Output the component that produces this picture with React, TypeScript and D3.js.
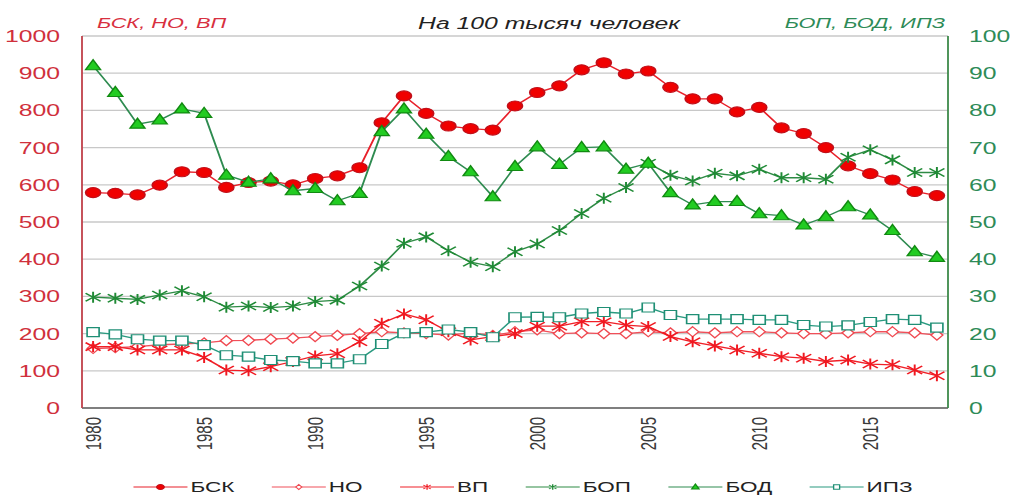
import { useEffect, useRef } from "react"
import * as d3 from "d3"

const YEARS = [
  1980, 1981, 1982, 1983, 1984, 1985, 1986, 1987, 1988, 1989, 1990, 1991, 1992,
  1993, 1994, 1995, 1996, 1997, 1998, 1999, 2000, 2001, 2002, 2003, 2004, 2005,
  2006, 2007, 2008, 2009, 2010, 2011, 2012, 2013, 2014, 2015, 2016, 2017, 2018,
]
const YEAR_LABELS = [1980, 1985, 1990, 1995, 2000, 2005, 2010, 2015]

// left axis (per 100k): БСК, НО, ВП
const BSK = [
  579, 577, 573, 599, 635, 633, 593, 606, 610, 600, 617, 624, 646,
  767, 839, 792, 758, 751, 747, 812, 848, 866, 909, 928, 898, 906,
  862, 831, 831, 796, 808, 753, 738, 700, 651, 630, 613, 582, 571,
]
const NO = [
  160, 162, 165, 170, 172, 175, 181, 182, 185, 188, 192, 195, 200,
  205, 202, 200, 196, 202, 195, 205, 210, 200, 202, 200, 200, 205,
  202, 205, 202, 205, 205, 202, 200, 200, 202, 205, 205, 202, 196,
]
const VP = [
  165, 165, 156, 156, 156, 136, 102, 100, 111, 125, 140, 146, 178,
  228, 253, 237, 205, 183, 192, 200, 220, 220, 232, 232, 223, 219,
  192, 178, 167, 156, 147, 138, 134, 125, 129, 118, 116, 102, 87,
]
// right axis: БОП, БОД, ИПЗ
const BOP = [
  29.8, 29.5, 29.2, 30.4, 31.5, 29.9, 27.1, 27.4, 27.0, 27.4, 28.6, 29.0, 32.8,
  38.2, 44.3, 46.0, 42.3, 39.2, 38.0, 42.0, 44.1, 47.7, 52.3, 56.4, 59.3, 65.8,
  62.6, 61.0, 63.1, 62.4, 64.2, 61.9, 61.9, 61.5, 67.4, 69.4, 66.7, 63.3, 63.3,
]
const BOD = [
  92.0, 84.8, 76.3, 77.4, 80.4, 79.2, 62.6, 60.7, 61.6, 58.4, 59.0, 55.7, 57.7,
  74.3, 80.4, 73.6, 67.6, 63.5, 56.8, 64.9, 70.2, 65.5, 70.0, 70.2, 64.2, 65.8,
  57.9, 54.6, 55.5, 55.5, 52.2, 51.7, 49.2, 51.4, 54.1, 51.9, 47.7, 42.0, 40.5,
]
const IPZ = [
  20.4, 19.8, 18.5, 18.1, 18.1, 16.9, 14.2, 13.8, 12.9, 12.6, 12.0, 12.0, 13.1,
  17.2, 20.1, 20.4, 21.1, 20.4, 19.0, 24.4, 24.5, 24.4, 25.4, 25.8, 25.4, 27.0,
  25.0, 23.9, 23.9, 23.9, 23.7, 23.7, 22.3, 21.9, 22.2, 23.1, 23.9, 23.7, 21.6,
]

const LEFT_TICKS = [0, 100, 200, 300, 400, 500, 600, 700, 800, 900, 1000]
const RIGHT_TICKS = [0, 10, 20, 30, 40, 50, 60, 70, 80, 90, 100]

const WIDTH = 1011
const HEIGHT = 496
// the source picture is stretched horizontally, so everything is drawn in a
// narrower frame and scaled by SX
const SX = 1.5
const PLOT = { left: 82, right: 948, top: 36, bottom: 408 }
const FONT = "'Liberation Sans', Arial, sans-serif"

const MARKERS: Record<string, string> = {
  circle: "M-5,0A5,5 0 1,0 5,0A5,5 0 1,0 -5,0Z",
  diamond: "M0,-5L4,0L0,5L-4,0Z",
  star: "M0,-5.5V5.5M-5,-4L5,4M-5,4L5,-4",
  triangle: "M0,-6L5,4L-5,4Z",
  square: "M-4,-4.5H4V4.5H-4Z",
}

interface Series {
  name: string
  values: number[]
  axis: "left" | "right"
  line: string
  stroke: string
  fill: string
  marker: string
}

const SERIES: Series[] = [
  { name: "БСК", values: BSK, axis: "left", line: "#e8202a", stroke: "#c0101a", fill: "#f00000", marker: "circle" },
  { name: "НО", values: NO, axis: "left", line: "#f0505a", stroke: "#f04850", fill: "#ffffff", marker: "diamond" },
  { name: "ВП", values: VP, axis: "left", line: "#f02028", stroke: "#f01820", fill: "none", marker: "star" },
  { name: "БОП", values: BOP, axis: "right", line: "#2e8b45", stroke: "#1f8a35", fill: "none", marker: "star" },
  { name: "БОД", values: BOD, axis: "right", line: "#2e8b50", stroke: "#118a11", fill: "#22cc22", marker: "triangle" },
  { name: "ИПЗ", values: IPZ, axis: "right", line: "#2a9a80", stroke: "#1f8f75", fill: "#ffffff", marker: "square" },
]

export default function App() {
  const svgRef = useRef<SVGSVGElement>(null)

  useEffect(() => {
    if (!svgRef.current) return
    const svg = d3.select(svgRef.current)
    svg.selectAll("*").remove()

    const g = svg.append("g").attr("transform", `scale(${SX},1)`).style("font-family", FONT)

    const L = PLOT.left / SX
    const R = PLOT.right / SX

    const x = d3.scaleBand<number>().domain(YEARS).range([L, R])
    const cx = (yr: number) => (x(yr) as number) + x.bandwidth() / 2
    const yL = d3.scaleLinear().domain([0, 1000]).range([PLOT.bottom, PLOT.top])
    const yR = d3.scaleLinear().domain([0, 100]).range([PLOT.bottom, PLOT.top])

    // gridlines
    g.append("g")
      .selectAll("line")
      .data(LEFT_TICKS.filter((t) => t > 0))
      .join("line")
      .attr("x1", L)
      .attr("x2", R)
      .attr("y1", (d) => yL(d))
      .attr("y2", (d) => yL(d))
      .attr("stroke", "#c8c8c8")
      .attr("stroke-width", 1.3)

    // axes lines
    g.append("line").attr("x1", L).attr("x2", R).attr("y1", yL(0)).attr("y2", yL(0)).attr("stroke", "#555").attr("stroke-width", 1.5)
    g.append("line").attr("x1", L).attr("x2", L).attr("y1", PLOT.top).attr("y2", PLOT.bottom).attr("stroke", "#c0404a").attr("stroke-width", 1.2)
    g.append("line").attr("x1", R).attr("x2", R).attr("y1", PLOT.top).attr("y2", PLOT.bottom).attr("stroke", "#3d8a4a").attr("stroke-width", 1.2)

    // left tick labels
    g.append("g")
      .selectAll("text")
      .data(LEFT_TICKS)
      .join("text")
      .attr("x", 60 / SX)
      .attr("y", (d) => yL(d))
      .attr("dy", "0.36em")
      .attr("text-anchor", "end")
      .attr("font-size", 16.5)
      .attr("fill", "#d0303c")
      .text((d) => d)

    // right tick labels
    g.append("g")
      .selectAll("text")
      .data(RIGHT_TICKS)
      .join("text")
      .attr("x", 969 / SX)
      .attr("y", (d) => yR(d))
      .attr("dy", "0.36em")
      .attr("text-anchor", "start")
      .attr("font-size", 16.5)
      .attr("fill", "#2e8b57")
      .text((d) => d)

    // x labels, rotated
    g.append("g")
      .selectAll("text")
      .data(YEAR_LABELS)
      .join("text")
      .attr("transform", (d) => `translate(${cx(d)},${PLOT.bottom + 9}) rotate(-90)`)
      .attr("dy", "0.36em")
      .attr("text-anchor", "end")
      .attr("font-size", 15)
      .attr("fill", "#3a3a3a")
      .text((d) => d)

    // headers
    g.append("text").attr("x", 97 / SX).attr("y", 28).attr("font-size", 14.5).attr("font-style", "italic").attr("fill", "#d83040").text("БСК, НО, ВП")
    g.append("text").attr("x", 549 / SX).attr("y", 29).attr("text-anchor", "middle").attr("font-size", 16.5).attr("font-style", "italic").attr("fill", "#222").text("На 100 тысяч человек")
    g.append("text").attr("x", 945 / SX).attr("y", 28).attr("text-anchor", "end").attr("font-size", 14.5).attr("font-style", "italic").attr("fill", "#2e8b57").text("БОП, БОД, ИПЗ")

    // series
    SERIES.forEach((s) => {
      const y = s.axis === "left" ? yL : yR
      const line = d3
        .line<number>()
        .x((_, i) => cx(YEARS[i]))
        .y((d) => y(d))
      g.append("path")
        .datum(s.values)
        .attr("fill", "none")
        .attr("stroke", s.line)
        .attr("stroke-width", 1.3)
        .attr("d", line)
      g.append("g")
        .selectAll("path")
        .data(s.values)
        .join("path")
        .attr("transform", (d, i) => `translate(${cx(YEARS[i])},${y(d)})`)
        .attr("d", MARKERS[s.marker])
        .attr("fill", s.fill)
        .attr("stroke", s.stroke)
        .attr("stroke-width", s.marker === "star" ? 1.3 : 1.1)
    })

    // legend
    const legend = g.append("g").attr("transform", `translate(0,487)`)
    const LINE_W = 36
    const items = SERIES.map((s) => {
      const item = legend.append("g")
      item.append("line").attr("x1", 0).attr("x2", LINE_W).attr("stroke", s.line).attr("stroke-width", 1.2)
      item.append("path")
        .attr("transform", `translate(${LINE_W / 2},0) scale(0.5)`)
        .attr("d", MARKERS[s.marker])
        .attr("fill", s.fill)
        .attr("stroke", s.stroke)
        .attr("stroke-width", 1.8)
      const t = item.append("text")
        .attr("x", LINE_W + 2)
        .attr("dy", "0.36em")
        .attr("font-size", 15)
        .attr("fill", "#222")
        .text(s.name)
      const w = LINE_W + 2 + (t.node() as SVGTextElement).getComputedTextLength()
      return { item, w }
    })
    const GAP = 25
    const total = d3.sum(items, (d) => d.w) + GAP * (items.length - 1)
    let pos = 523 / SX - total / 2
    items.forEach(({ item, w }) => {
      item.attr("transform", `translate(${pos},0)`)
      pos += w + GAP
    })
  }, [])

  return (
    <svg
      ref={svgRef}
      width={WIDTH}
      height={HEIGHT}
      style={{ position: "absolute", left: 0, top: 0, background: "#fff" }}
    />
  )
}
